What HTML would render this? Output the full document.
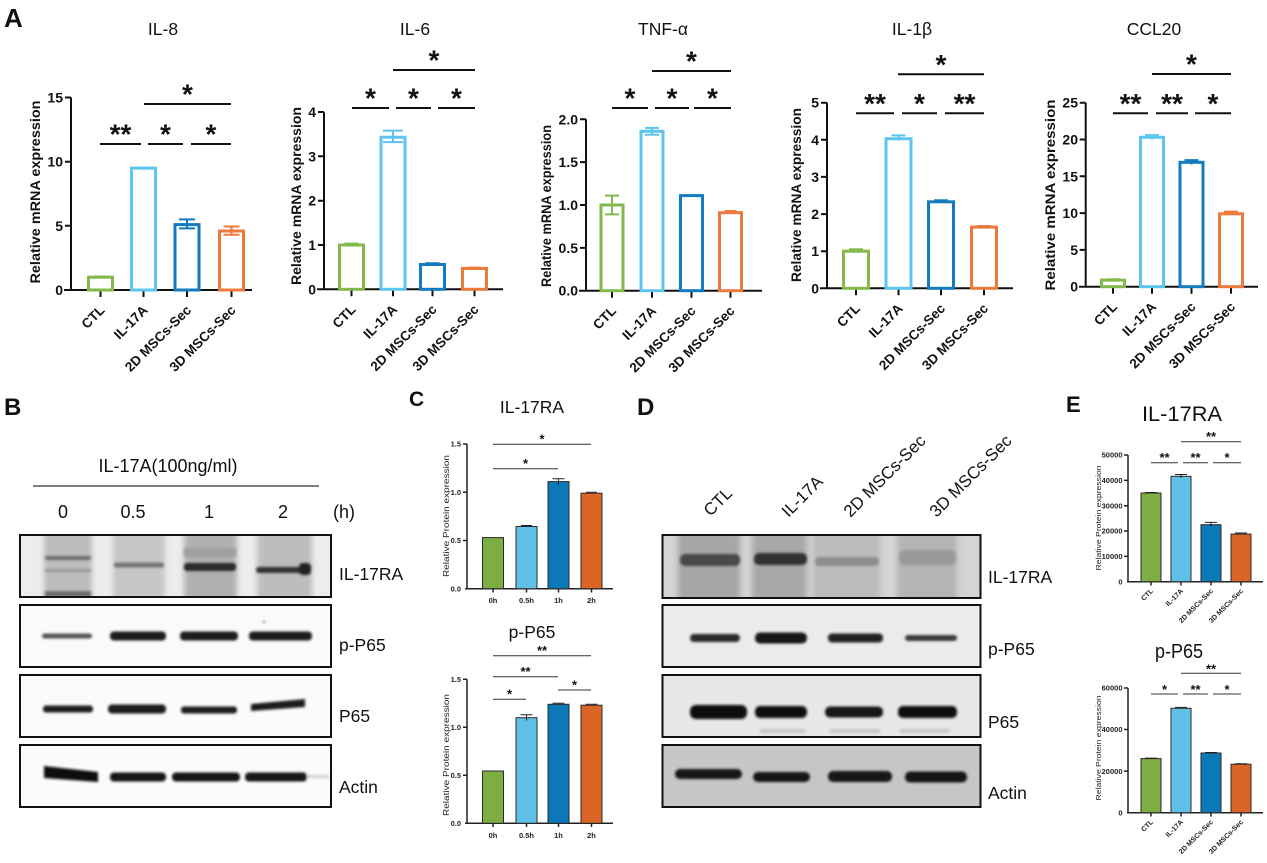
<!DOCTYPE html>
<html><head><meta charset="utf-8">
<style>
html,body{margin:0;padding:0;background:#fff;}
svg{display:block;}
text{font-family:"Liberation Sans",Arial,sans-serif;fill:#111;}
.ax{stroke:#111;stroke-width:2;fill:none;}
.sig{stroke:#111;stroke-width:2;fill:none;}
.st{font-size:28px;font-weight:bold;text-anchor:middle;}
.tl{font-size:14px;font-weight:bold;text-anchor:end;}
.xl{font-size:13.5px;font-weight:bold;text-anchor:end;}
.yl{font-size:14px;font-weight:bold;text-anchor:middle;}
.tt{font-size:17.5px;text-anchor:middle;}
.bar{fill:none;stroke-width:3;}
.eb{fill:none;stroke-width:2;}
.g{stroke:#83b94b}.lb{stroke:#5ec5ee}.bl{stroke:#137bbf}.or{stroke:#ec7a3c}
.ax2{stroke:#222;stroke-width:1.5;fill:none;}
.sig2{stroke:#333;stroke-width:1;fill:none;}
.st2{font-size:13px;font-weight:bold;text-anchor:middle;}
.tl2{font-size:7.5px;font-weight:bold;text-anchor:end;fill:#222;}
.xc{font-size:7.5px;font-weight:bold;text-anchor:middle;fill:#222;}
.xe{font-size:7px;font-weight:bold;text-anchor:end;fill:#222;}
.yl2{font-size:8px;text-anchor:middle;fill:#222;}
.fb{stroke:#2a2a2a;stroke-width:1;}
.e2{stroke:#222;stroke-width:1;fill:none;}
.blab{font-size:17.5px;}
.box{fill:none;stroke:#111;stroke-width:2;}
</style></head>
<body>
<svg width="1267" height="863" viewBox="0 0 1267 863" xmlns="http://www.w3.org/2000/svg">
<defs>
<filter id="f1" x="-30%" y="-100%" width="160%" height="300%"><feGaussianBlur stdDeviation="1.3"/></filter>
<filter id="f2" x="-30%" y="-30%" width="160%" height="160%"><feGaussianBlur stdDeviation="3"/></filter>
<clipPath id="cb1"><rect x="20" y="535" width="311" height="62"/></clipPath>
<clipPath id="cb2"><rect x="20" y="605" width="311" height="62"/></clipPath>
<clipPath id="cb3"><rect x="20" y="675" width="311" height="62"/></clipPath>
<clipPath id="cb4"><rect x="20" y="745" width="311" height="62"/></clipPath>
<clipPath id="cd1"><rect x="662.5" y="535" width="318" height="63"/></clipPath>
<clipPath id="cd2"><rect x="662.5" y="605" width="318" height="62"/></clipPath>
<clipPath id="cd3"><rect x="662.5" y="675" width="318" height="62"/></clipPath>
<clipPath id="cd4"><rect x="662.5" y="745" width="318" height="62"/></clipPath>
</defs>

<!-- Panel letters -->
<text x="4" y="27" style="font-size:26px;font-weight:bold">A</text>
<text x="4" y="415" style="font-size:24px;font-weight:bold">B</text>
<text x="409" y="406" style="font-size:21px;font-weight:bold">C</text>
<text x="637" y="415" style="font-size:24px;font-weight:bold">D</text>
<text x="1066" y="412" style="font-size:22px;font-weight:bold">E</text>

<!-- ===== IL-8 ===== -->
<text class="tt" x="163" y="35">IL-8</text>
<path class="ax" d="M71,97.5V290M64,290H252M65,225.8H71M65,161.7H71M65,97.5H71M100.5,290V297M143.5,290V297M187,290V297M231.5,290V297"/>
<text class="tl" x="63" y="295">0</text>
<text class="tl" x="63" y="230.8">5</text>
<text class="tl" x="63" y="166.7">10</text>
<text class="tl" x="63" y="102.5">15</text>
<text class="yl" transform="translate(40,192) rotate(-90)" textLength="183" lengthAdjust="spacingAndGlyphs">Relative mRNA expression</text>
<rect class="bar g" x="88.5" y="277.2" width="24" height="12.8"/>
<rect class="bar lb" x="131.5" y="168.1" width="24" height="121.9"/>
<rect class="bar bl" x="175" y="224.6" width="24" height="65.4"/>
<rect class="bar or" x="219.5" y="231" width="24" height="59"/>
<path class="eb g" d="M93.5,276.5H107.5"/>
<path class="eb lb" d="M136.5,167.5H150.5"/>
<path class="eb bl" d="M187,219.4V228.4M179,219.4H195M179,228.4H195"/>
<path class="eb or" d="M231.5,226.5V234.8M223.5,226.5H239.5M223.5,234.8H239.5"/>
<path class="sig" d="M100,144H141M148,144H183M191,144H231M144,104H231"/>
<text class="st" x="120.5" y="143.5">**</text>
<text class="st" x="165.5" y="143.5">*</text>
<text class="st" x="211" y="143.5">*</text>
<text class="st" x="187.5" y="103.5">*</text>
<text class="xl" transform="translate(105.5,311) rotate(-45)">CTL</text>
<text class="xl" transform="translate(148.5,311) rotate(-45)">IL-17A</text>
<text class="xl" transform="translate(192,311) rotate(-45)">2D MSCs-Sec</text>
<text class="xl" transform="translate(236.5,311) rotate(-45)">3D MSCs-Sec</text>

<!-- ===== IL-6 ===== -->
<text class="tt" x="415" y="35">IL-6</text>
<path class="ax" d="M324,112V289.3M317,289.3H503M318,245H324M318,200.7H324M318,156.3H324M318,112H324M351.5,289.3V296.3M393,289.3V296.3M432.5,289.3V296.3M474.5,289.3V296.3"/>
<text class="tl" x="316" y="294.3">0</text>
<text class="tl" x="316" y="250">1</text>
<text class="tl" x="316" y="205.7">2</text>
<text class="tl" x="316" y="161.3">3</text>
<text class="tl" x="316" y="117">4</text>
<text class="yl" transform="translate(301,196) rotate(-90)" textLength="178" lengthAdjust="spacingAndGlyphs">Relative mRNA expression</text>
<rect class="bar g" x="339.5" y="245" width="24" height="44.3"/>
<rect class="bar lb" x="381" y="137.2" width="24" height="152.1"/>
<rect class="bar bl" x="420.5" y="264.5" width="24" height="24.8"/>
<rect class="bar or" x="462.5" y="268.5" width="24" height="20.8"/>
<path class="eb g" d="M344.5,243.6H358.5"/>
<path class="eb lb" d="M393,130.6V142.1M383,130.6H403M383,142.1H403"/>
<path class="eb bl" d="M425.5,263.2H439.5"/>
<path class="eb or" d="M467.5,267.6H481.5"/>
<path class="sig" d="M352,108H389M396,108H431M438,108H475M393,70H475"/>
<text class="st" x="370.5" y="107.5">*</text>
<text class="st" x="413.5" y="107.5">*</text>
<text class="st" x="456.5" y="107.5">*</text>
<text class="st" x="434" y="69.5">*</text>
<text class="xl" transform="translate(356.5,310.3) rotate(-45)">CTL</text>
<text class="xl" transform="translate(398,310.3) rotate(-45)">IL-17A</text>
<text class="xl" transform="translate(437.5,310.3) rotate(-45)">2D MSCs-Sec</text>
<text class="xl" transform="translate(479.5,310.3) rotate(-45)">3D MSCs-Sec</text>

<!-- ===== TNF-α ===== -->
<text class="tt" x="663" y="35">TNF-α</text>
<path class="ax" d="M586,119.3V290.7M579,290.7H762M580,247.85H586M580,205H586M580,162.15H586M580,119.3H586M612,290.7V297.7M652,290.7V297.7M691.5,290.7V297.7M730.5,290.7V297.7"/>
<text class="tl" x="578" y="295.7">0.0</text>
<text class="tl" x="578" y="252.85">0.5</text>
<text class="tl" x="578" y="210">1.0</text>
<text class="tl" x="578" y="167.15">1.5</text>
<text class="tl" x="578" y="124.3">2.0</text>
<text class="yl" transform="translate(551,206) rotate(-90)" textLength="162" lengthAdjust="spacingAndGlyphs">Relative mRNA expression</text>
<rect class="bar g" x="601" y="205" width="22" height="85.7"/>
<rect class="bar lb" x="641" y="131.3" width="22" height="159.4"/>
<rect class="bar bl" x="680.5" y="195.6" width="22" height="95.1"/>
<rect class="bar or" x="719.5" y="212.7" width="22" height="78"/>
<path class="eb g" d="M612,195.6V214.4M605,195.6H619M605,214.4H619"/>
<path class="eb lb" d="M652,127.9V134.7M645,127.9H659M645,134.7H659"/>
<path class="eb or" d="M724.5,211H736.5"/>
<path class="sig" d="M612,108H648M655,108H689M694,108H731M652,71H731"/>
<text class="st" x="630" y="107.5">*</text>
<text class="st" x="672" y="107.5">*</text>
<text class="st" x="712.5" y="107.5">*</text>
<text class="st" x="691.5" y="70.5">*</text>
<text class="xl" transform="translate(617,311.7) rotate(-45)">CTL</text>
<text class="xl" transform="translate(657,311.7) rotate(-45)">IL-17A</text>
<text class="xl" transform="translate(696.5,311.7) rotate(-45)">2D MSCs-Sec</text>
<text class="xl" transform="translate(735.5,311.7) rotate(-45)">3D MSCs-Sec</text>

<!-- ===== IL-1β ===== -->
<text class="tt" x="912" y="35">IL-1β</text>
<path class="ax" d="M827,102.7V288.3M820,288.3H1013M821,251.2H827M821,214.1H827M821,176.9H827M821,139.8H827M821,102.7H827M856,288.3V295.3M898.5,288.3V295.3M941,288.3V295.3M984,288.3V295.3"/>
<text class="tl" x="819" y="293.3">0</text>
<text class="tl" x="819" y="256.2">1</text>
<text class="tl" x="819" y="219.1">2</text>
<text class="tl" x="819" y="181.9">3</text>
<text class="tl" x="819" y="144.8">4</text>
<text class="tl" x="819" y="107.7">5</text>
<text class="yl" transform="translate(801,195) rotate(-90)" textLength="174" lengthAdjust="spacingAndGlyphs">Relative mRNA expression</text>
<rect class="bar g" x="843.5" y="251.2" width="25" height="37.1"/>
<rect class="bar lb" x="886" y="138.7" width="25" height="149.6"/>
<rect class="bar bl" x="928.5" y="201.8" width="25" height="86.5"/>
<rect class="bar or" x="971.5" y="227.1" width="25" height="61.2"/>
<path class="eb g" d="M849,249.3H863"/>
<path class="eb lb" d="M898.5,135.4V140.6M891.5,135.4H905.5"/>
<path class="eb bl" d="M934,200.3H948"/>
<path class="eb or" d="M977,226H991"/>
<path class="sig" d="M856,113.3H894M902,113.3H937M945,113.3H984M898,74.3H984"/>
<text class="st" x="875" y="112.8">**</text>
<text class="st" x="919.5" y="112.8">*</text>
<text class="st" x="964.5" y="112.8">**</text>
<text class="st" x="941" y="73.8">*</text>
<text class="xl" transform="translate(861,309.3) rotate(-45)">CTL</text>
<text class="xl" transform="translate(903.5,309.3) rotate(-45)">IL-17A</text>
<text class="xl" transform="translate(946,309.3) rotate(-45)">2D MSCs-Sec</text>
<text class="xl" transform="translate(989,309.3) rotate(-45)">3D MSCs-Sec</text>

<!-- ===== CCL20 ===== -->
<text class="tt" x="1154" y="35">CCL20</text>
<path class="ax" d="M1085.7,102.7V286.7M1079,286.7H1258M1079.7,249.9H1085.7M1079.7,213.1H1085.7M1079.7,176.3H1085.7M1079.7,139.5H1085.7M1079.7,102.7H1085.7M1113,286.7V293.7M1152,286.7V293.7M1191.5,286.7V293.7M1231,286.7V293.7"/>
<text class="tl" x="1078" y="291.7">0</text>
<text class="tl" x="1078" y="254.9">5</text>
<text class="tl" x="1078" y="218.1">10</text>
<text class="tl" x="1078" y="181.3">15</text>
<text class="tl" x="1078" y="144.5">20</text>
<text class="tl" x="1078" y="107.7">25</text>
<text class="yl" transform="translate(1055,195) rotate(-90)" textLength="191" lengthAdjust="spacingAndGlyphs">Relative mRNA expression</text>
<rect class="bar g" x="1101.5" y="280.1" width="23" height="6.6"/>
<rect class="bar lb" x="1140.5" y="137.3" width="23" height="149.4"/>
<rect class="bar bl" x="1180" y="162.3" width="23" height="124.4"/>
<rect class="bar or" x="1219.5" y="213.8" width="23" height="72.9"/>
<path class="eb g" d="M1106,279.3H1120"/>
<path class="eb lb" d="M1152,135.1V139.5M1145,135.1H1159"/>
<path class="eb bl" d="M1191.5,160.1V164.5M1184.5,160.1H1198.5"/>
<path class="eb or" d="M1231,211.6V215.3M1224,211.6H1238"/>
<path class="sig" d="M1113,113.3H1148M1156,113.3H1188M1195,113.3H1231M1152,74H1231"/>
<text class="st" x="1130.5" y="112.8">**</text>
<text class="st" x="1172" y="112.8">**</text>
<text class="st" x="1213" y="112.8">*</text>
<text class="st" x="1191.5" y="73.5">*</text>
<text class="xl" transform="translate(1118,307.7) rotate(-45)">CTL</text>
<text class="xl" transform="translate(1157,307.7) rotate(-45)">IL-17A</text>
<text class="xl" transform="translate(1196.5,307.7) rotate(-45)">2D MSCs-Sec</text>
<text class="xl" transform="translate(1236,307.7) rotate(-45)">3D MSCs-Sec</text>

<!-- ===== Panel B ===== -->
<text x="168" y="472" text-anchor="middle" style="font-size:18px" textLength="139" lengthAdjust="spacingAndGlyphs">IL-17A(100ng/ml)</text>
<path d="M33,486H319" stroke="#555" stroke-width="1.5"/>
<text x="63" y="518" text-anchor="middle" style="font-size:18px">0</text>
<text x="133" y="518" text-anchor="middle" style="font-size:18px">0.5</text>
<text x="209" y="518" text-anchor="middle" style="font-size:18px">1</text>
<text x="283" y="518" text-anchor="middle" style="font-size:18px">2</text>
<text x="344" y="518" text-anchor="middle" style="font-size:18px">(h)</text>

<g clip-path="url(#cb1)">
<rect x="20" y="535" width="311" height="62" fill="#ededed"/>
<g filter="url(#f2)">
<rect x="44" y="530" width="48" height="72" fill="#bcbcbc"/>
<rect x="113" y="530" width="52" height="72" fill="#c6c6c6"/>
<rect x="184" y="530" width="53" height="72" fill="#b0b0b0"/>
<rect x="257" y="530" width="55" height="72" fill="#bdbdbd"/>
</g>
<g filter="url(#f1)">
<rect x="45" y="556" width="46" height="4" rx="2" fill="#6a6a6a"/>
<rect x="45" y="569" width="46" height="3" fill="#9a9a9a"/>
<rect x="45" y="591" width="46" height="6" fill="#6e6e6e"/>
<rect x="114" y="562.5" width="50" height="5" rx="2" fill="#767676"/>
<rect x="184" y="548" width="52" height="9" fill="#a0a0a0"/>
<rect x="184" y="563" width="52" height="8" rx="3" fill="#2c2c2c"/>
<rect x="256" y="567" width="50" height="6" rx="3" fill="#333"/>
<rect x="299" y="563" width="12" height="12" rx="4" fill="#222"/>
</g>
</g>
<rect class="box" x="20" y="535" width="311" height="62"/>

<g clip-path="url(#cb2)">
<rect x="20" y="605" width="311" height="62" fill="#fafafa"/>
<g filter="url(#f1)">
<rect x="42" y="633.5" width="50" height="5" rx="2.5" fill="#555"/>
<rect x="110" y="631.5" width="56" height="9" rx="4" fill="#1c1c1c"/>
<rect x="180" y="631.5" width="58" height="9" rx="4" fill="#1a1a1a"/>
<rect x="249" y="631.5" width="63" height="9" rx="4" fill="#1a1a1a"/>
<rect x="263" y="621" width="2" height="2" fill="#666"/>
</g>
</g>
<rect class="box" x="20" y="605" width="311" height="62"/>

<g clip-path="url(#cb3)">
<rect x="20" y="675" width="311" height="62" fill="#fbfbfb"/>
<g filter="url(#f1)">
<rect x="43" y="705.5" width="50" height="7" rx="3" fill="#1f1f1f"/>
<rect x="108" y="704.5" width="58" height="9" rx="4" fill="#1a1a1a"/>
<rect x="181" y="706.5" width="56" height="7" rx="3" fill="#1f1f1f"/>
<path d="M251,704 L305,699 L305,707 L251,711 Z" fill="#1a1a1a"/>
</g>
</g>
<rect class="box" x="20" y="675" width="311" height="62"/>

<g clip-path="url(#cb4)">
<rect x="20" y="745" width="311" height="62" fill="#fbfbfb"/>
<g filter="url(#f1)">
<path d="M44,766 L98,772 L98,782 L44,778 Z" fill="#0e0e0e"/>
<rect x="110" y="772.5" width="56" height="9" rx="4" fill="#161616"/>
<rect x="172" y="772.5" width="68" height="9" rx="4" fill="#161616"/>
<rect x="245" y="772.5" width="62" height="9" rx="4" fill="#161616"/>
<rect x="307" y="775" width="22" height="3" fill="#cfcfcf"/>
</g>
</g>
<rect class="box" x="20" y="745" width="311" height="62"/>

<text class="blab" x="339" y="580">IL-17RA</text>
<text class="blab" x="339" y="651">p-P65</text>
<text class="blab" x="339" y="722">P65</text>
<text class="blab" x="339" y="793">Actin</text>

<!-- ===== Panel C: IL-17RA ===== -->
<text x="532" y="413" text-anchor="middle" style="font-size:17.5px">IL-17RA</text>
<path class="ax2" d="M467,444V588.7M465,588.7H613M463,540.5H467M463,492.2H467M463,444H467M493,588.7V592.5M526.5,588.7V592.5M558.5,588.7V592.5M591.5,588.7V592.5"/>
<text class="tl2" x="461" y="591.4">0.0</text>
<text class="tl2" x="461" y="543.2">0.5</text>
<text class="tl2" x="461" y="494.9">1.0</text>
<text class="tl2" x="461" y="446.7">1.5</text>
<text class="yl2" transform="translate(449,516) rotate(-90)" textLength="122" lengthAdjust="spacingAndGlyphs">Relative Protein expression</text>
<rect class="fb" x="482.5" y="537.6" width="21" height="51.1" fill="#7cae44"/>
<rect class="fb" x="516" y="526.5" width="21" height="62.2" fill="#60c1e8"/>
<rect class="fb" x="548" y="481.6" width="21" height="107.1" fill="#0b79b7"/>
<rect class="fb" x="581" y="493.2" width="21" height="95.5" fill="#da6527"/>
<path class="e2" d="M521,525.5H532M558.5,478.7V484.5M552.5,478.7H564.5M586,492.2H597"/>
<path class="sig2" d="M493,468.7H558M493,444.3H591"/>
<text class="st2" x="525.5" y="468">*</text>
<text class="st2" x="542" y="443.6">*</text>
<text class="xc" x="493" y="603">0h</text>
<text class="xc" x="526.5" y="603">0.5h</text>
<text class="xc" x="558.5" y="603">1h</text>
<text class="xc" x="591.5" y="603">2h</text>

<!-- ===== Panel C: p-P65 ===== -->
<text x="532" y="638" text-anchor="middle" style="font-size:17.5px">p-P65</text>
<path class="ax2" d="M467,679.3V823.3M465,823.3H613M463,775.3H467M463,727.3H467M463,679.3H467M493,823.3V827M526.5,823.3V827M558.5,823.3V827M591.5,823.3V827"/>
<text class="tl2" x="461" y="826">0.0</text>
<text class="tl2" x="461" y="778">0.5</text>
<text class="tl2" x="461" y="730">1.0</text>
<text class="tl2" x="461" y="682">1.5</text>
<text class="yl2" transform="translate(449,755) rotate(-90)" textLength="122" lengthAdjust="spacingAndGlyphs">Relative Protein expression</text>
<rect class="fb" x="482.5" y="771" width="21" height="52.3" fill="#7cae44"/>
<rect class="fb" x="516" y="717.7" width="21" height="105.6" fill="#60c1e8"/>
<rect class="fb" x="548" y="704.3" width="21" height="119" fill="#0b79b7"/>
<rect class="fb" x="581" y="705.2" width="21" height="118.1" fill="#da6527"/>
<path class="e2" d="M526.5,714.8V720.6M520.5,714.8H532.5M552.5,703.3H564.5M585.5,704.2H597.5"/>
<path class="sig2" d="M493,655.7H591M493,676.7H558M493,699.3H526M558,690H591"/>
<text class="st2" x="542" y="655">**</text>
<text class="st2" x="525.5" y="676">**</text>
<text class="st2" x="509.5" y="698.6">*</text>
<text class="st2" x="574.5" y="689.3">*</text>
<text class="xc" x="493" y="838">0h</text>
<text class="xc" x="526.5" y="838">0.5h</text>
<text class="xc" x="558.5" y="838">1h</text>
<text class="xc" x="591.5" y="838">2h</text>

<!-- ===== Panel D ===== -->
<text transform="translate(710.5,517) rotate(-45)" style="font-size:17px">CTL</text>
<text transform="translate(788.5,518) rotate(-45)" style="font-size:17px">IL-17A</text>
<text transform="translate(850.5,518) rotate(-45)" style="font-size:17px">2D MSCs-Sec</text>
<text transform="translate(936.5,518) rotate(-45)" style="font-size:17px">3D MSCs-Sec</text>

<g clip-path="url(#cd1)">
<rect x="662.5" y="535" width="318" height="63" fill="#d4d4d4"/>
<g filter="url(#f2)">
<rect x="678" y="532" width="62" height="70" fill="#a6a6a6"/>
<rect x="752" y="532" width="55" height="70" fill="#a8a8a8"/>
<rect x="813" y="532" width="67" height="70" fill="#bcbcbc"/>
<rect x="897" y="532" width="60" height="70" fill="#b4b4b4"/>
</g>
<g filter="url(#f1)">
<rect x="680" y="554" width="60" height="12" rx="5" fill="#4a4a4a"/>
<rect x="754" y="553" width="53" height="12" rx="5" fill="#333"/>
<rect x="815" y="557" width="64" height="9" rx="4" fill="#8e8e8e"/>
<rect x="899" y="550" width="57" height="15" rx="6" fill="#9a9a9a"/>
</g>
</g>
<rect class="box" x="662.5" y="535" width="318" height="63"/>

<g clip-path="url(#cd2)">
<rect x="662.5" y="605" width="318" height="62" fill="#ebebeb"/>
<g filter="url(#f1)">
<rect x="690" y="634" width="50" height="8" rx="4" fill="#2a2a2a"/>
<rect x="755" y="632.5" width="52" height="11" rx="5" fill="#141414"/>
<rect x="828" y="633.5" width="55" height="9" rx="4" fill="#222"/>
<rect x="905" y="635" width="52" height="6" rx="3" fill="#3a3a3a"/>
</g>
</g>
<rect class="box" x="662.5" y="605" width="318" height="62"/>

<g clip-path="url(#cd3)">
<rect x="662.5" y="675" width="318" height="62" fill="#e7e7e7"/>
<g filter="url(#f1)">
<rect x="690" y="705" width="57" height="14" rx="6" fill="#0a0a0a"/>
<rect x="755" y="706" width="52" height="12" rx="5" fill="#111"/>
<rect x="825" y="706.5" width="58" height="11" rx="5" fill="#141414"/>
<rect x="898" y="706" width="59" height="12" rx="5" fill="#111"/>
<rect x="760" y="729" width="45" height="4" fill="#c6c6c6"/>
<rect x="830" y="729" width="50" height="4" fill="#c6c6c6"/>
<rect x="900" y="729" width="50" height="4" fill="#c6c6c6"/>
</g>
</g>
<rect class="box" x="662.5" y="675" width="318" height="62"/>

<g clip-path="url(#cd4)">
<rect x="662.5" y="745" width="318" height="62" fill="#c6c6c6"/>
<g filter="url(#f1)">
<rect x="675" y="769" width="67" height="10" rx="5" fill="#161616"/>
<rect x="753" y="772" width="57" height="10" rx="5" fill="#161616"/>
<rect x="828" y="771" width="64" height="11" rx="5" fill="#161616"/>
<rect x="905" y="771.5" width="62" height="11" rx="5" fill="#161616"/>
</g>
</g>
<rect class="box" x="662.5" y="745" width="318" height="62"/>

<text class="blab" x="988" y="583">IL-17RA</text>
<text class="blab" x="988" y="655">p-P65</text>
<text class="blab" x="988" y="728">P65</text>
<text class="blab" x="988" y="799">Actin</text>

<!-- ===== Panel E: IL-17RA ===== -->
<text x="1182" y="421" text-anchor="middle" style="font-size:21px" textLength="80" lengthAdjust="spacingAndGlyphs">IL-17RA</text>
<path class="ax2" d="M1128,455V581.7M1127,581.7H1263M1124,556.4H1128M1124,531H1128M1124,505.7H1128M1124,480.4H1128M1124,455H1128M1151,581.7V585.5M1181,581.7V585.5M1211,581.7V585.5M1241,581.7V585.5"/>
<text class="tl2" x="1122.5" y="584.4">0</text>
<text class="tl2" x="1122.5" y="559.1">10000</text>
<text class="tl2" x="1122.5" y="533.7">20000</text>
<text class="tl2" x="1122.5" y="508.4">30000</text>
<text class="tl2" x="1122.5" y="483.1">40000</text>
<text class="tl2" x="1122.5" y="457.7">50000</text>
<text class="yl2" style="font-size:7.5px" transform="translate(1101,518) rotate(-90)" textLength="105" lengthAdjust="spacingAndGlyphs">Relative Protein expression</text>
<rect class="fb" x="1141" y="493" width="20" height="88.7" fill="#7cae44"/>
<rect class="fb" x="1171" y="476.3" width="20" height="105.4" fill="#60c1e8"/>
<rect class="fb" x="1201" y="524.7" width="20" height="57" fill="#0b79b7"/>
<rect class="fb" x="1231" y="534.1" width="20" height="47.6" fill="#da6527"/>
<path class="e2" d="M1145,492.5H1157M1181,474.5V478M1175,474.5H1187M1211,522.4V526.5M1205,522.4H1217M1235,533H1247"/>
<path class="sig2" d="M1151,462.7H1178M1183,462.7H1208M1213,462.7H1241M1181,441.7H1241"/>
<text class="st2" x="1164.5" y="462.2">**</text>
<text class="st2" x="1195.5" y="462.2">**</text>
<text class="st2" x="1227" y="462.2">*</text>
<text class="st2" x="1211" y="441.2">**</text>
<text class="xe" transform="translate(1153.5,591.5) rotate(-45)">CTL</text>
<text class="xe" transform="translate(1183.5,591.5) rotate(-45)">IL-17A</text>
<text class="xe" transform="translate(1213.5,591.5) rotate(-45)">2D MSCs-Sec</text>
<text class="xe" transform="translate(1243.5,591.5) rotate(-45)">3D MSCs-Sec</text>

<!-- ===== Panel E: p-P65 ===== -->
<text x="1179" y="658" text-anchor="middle" style="font-size:20px" textLength="48" lengthAdjust="spacingAndGlyphs">p-P65</text>
<path class="ax2" d="M1128,688V812.7M1127,812.7H1263M1124,771.1H1128M1124,729.5H1128M1124,688H1128M1151,812.7V816.5M1181,812.7V816.5M1211,812.7V816.5M1241,812.7V816.5"/>
<text class="tl2" x="1122.5" y="815.4">0</text>
<text class="tl2" x="1122.5" y="773.8">20000</text>
<text class="tl2" x="1122.5" y="732.2">40000</text>
<text class="tl2" x="1122.5" y="690.7">60000</text>
<text class="yl2" style="font-size:7.5px" transform="translate(1101,748) rotate(-90)" textLength="105" lengthAdjust="spacingAndGlyphs">Relative Protein expression</text>
<rect class="fb" x="1141" y="758.6" width="20" height="54.1" fill="#7cae44"/>
<rect class="fb" x="1171" y="708.3" width="20" height="104.4" fill="#60c1e8"/>
<rect class="fb" x="1201" y="753" width="20" height="59.7" fill="#0b79b7"/>
<rect class="fb" x="1231" y="764.2" width="20" height="48.5" fill="#da6527"/>
<path class="e2" d="M1175,707.4H1187M1145,758.1H1157M1205,752.5H1217M1235,763.7H1247"/>
<path class="sig2" d="M1151,694H1178M1183,694H1208M1213,694H1241M1181,673.3H1241"/>
<text class="st2" x="1164.5" y="694">*</text>
<text class="st2" x="1195.5" y="694">**</text>
<text class="st2" x="1227" y="694">*</text>
<text class="st2" x="1211" y="673.3">**</text>
<text class="xe" transform="translate(1153.5,822.5) rotate(-45)">CTL</text>
<text class="xe" transform="translate(1183.5,822.5) rotate(-45)">IL-17A</text>
<text class="xe" transform="translate(1213.5,822.5) rotate(-45)">2D MSCs-Sec</text>
<text class="xe" transform="translate(1243.5,822.5) rotate(-45)">3D MSCs-Sec</text>
</svg>
</body></html>
